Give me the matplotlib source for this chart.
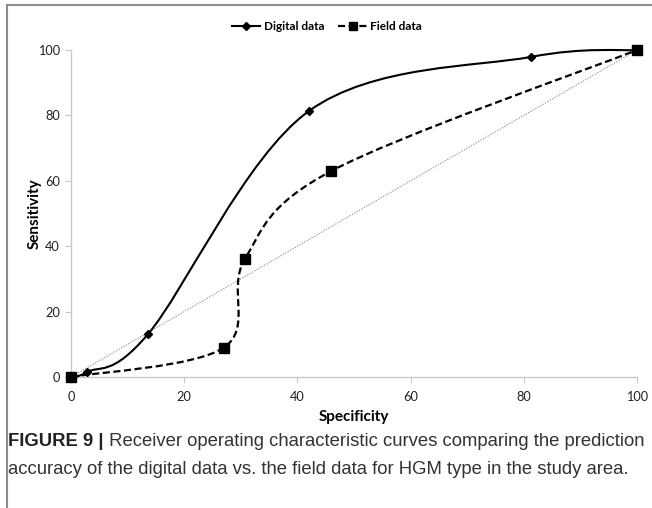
import numpy as np
import matplotlib
matplotlib.use("Agg")
import matplotlib.pyplot as plt
from matplotlib.path import Path
from matplotlib.patches import PathPatch
from matplotlib.lines import Line2D

# ROC points (specificity, sensitivity) in percent
digital_spec = [0, 2.8, 13.6, 42.0, 81.3, 100]
digital_sens = [0, 1.5, 13.1, 81.3, 97.9, 100]
field_spec = [0, 27.0, 30.7, 46.0, 100]
field_sens = [0, 9.0, 36.0, 63.0, 100]
ref_line = [0, 100]

x_ticks = [0, 20, 40, 60, 80, 100]
y_ticks = [0, 20, 40, 60, 80, 100]

series_names = ["Digital data", "Field data"]
x_label = "Specificity"
y_label = "Sensitivity"
caption_bold = "FIGURE 9 |"
caption_line1 = " Receiver operating characteristic curves comparing the prediction"
caption_line2 = "accuracy of the digital data vs. the field data for HGM type in the study area."


def smooth_path(xs, ys):
    """Catmull-Rom style smoothed line expressed as cubic Bezier segments."""
    pts = np.column_stack([xs, ys]).astype(float)
    n = len(pts)
    verts = [pts[0]]
    codes = [Path.MOVETO]
    for i in range(n - 1):
        p_prev = pts[i - 1] if i > 0 else pts[i]
        p0 = pts[i]
        p1 = pts[i + 1]
        p_next = pts[i + 2] if i + 2 < n else pts[i + 1]
        c1 = p0 + (p1 - p_prev) / 6.0
        c2 = p1 - (p_next - p0) / 6.0
        verts += [c1, c2, p1]
        codes += [Path.CURVE4] * 3
    return Path(verts, codes)


W, H = 652, 508
fig = plt.figure(figsize=(W / 100, H / 100), dpi=100)
fig.patch.set_facecolor("white")

# axes box in pixel coordinates
x0_px, x1_px = 71, 637
y0_px, y1_px = 377, 50
ax_w = x1_px - x0_px
ax = fig.add_axes([x0_px / W, 1 - y0_px / H, ax_w / W, (y0_px - y1_px) / H])
ax.set_xlim(0, 100)
ax.set_ylim(0, 100)
for s in ["top", "right"]:
    ax.spines[s].set_visible(False)
for s in ["left", "bottom"]:
    ax.spines[s].set_color("#c8c8c8")
    ax.spines[s].set_linewidth(1.0)

tick_font = "Lato"
ax.set_xticks(x_ticks)
ax.set_yticks(y_ticks)
ax.tick_params(axis="both", direction="out", length=4, width=0.8, color="#c8c8c8",
               labelsize=9.2, labelcolor="#222222")
ax.tick_params(axis="x", pad=6)
ax.tick_params(axis="y", pad=4)
for lab in ax.get_xticklabels() + ax.get_yticklabels():
    lab.set_fontfamily(tick_font)

ax.set_xlabel(x_label, fontsize=11, fontweight="bold", fontfamily=tick_font, labelpad=5)
ax.set_ylabel(y_label, fontsize=11, fontweight="bold", fontfamily=tick_font)
ax.yaxis.set_label_coords((42 - x0_px) / ax_w, 0.5)

# chance diagonal
ax.plot(ref_line, ref_line, linestyle=(0, (1, 1.2)), color="#999999", linewidth=0.9, zorder=1)

# smoothed curves
ax.add_patch(PathPatch(smooth_path(digital_spec, digital_sens), fill=False,
                       edgecolor="black", linewidth=1.5, zorder=3, clip_on=False))
ax.add_patch(PathPatch(smooth_path(field_spec, field_sens), fill=False,
                       edgecolor="black", linewidth=1.6, linestyle=(0, (3.2, 1.6)),
                       zorder=3, clip_on=False))

# markers
ax.plot(digital_spec, digital_sens, linestyle="none", marker="D", markersize=4,
        color="black", zorder=4, clip_on=False)
ax.plot(field_spec, field_sens, linestyle="none", marker="s", markersize=6.5,
        color="black", zorder=5, clip_on=False)

handles = [
    Line2D([], [], color="black", linewidth=1.5, marker="D", markersize=4),
    Line2D([], [], color="black", linewidth=1.6, linestyle=(0, (3.2, 1.6)), marker="s",
           markersize=5.5),
]
leg = fig.legend(handles, series_names, loc="center", bbox_to_anchor=(327 / W, 1 - 27 / H),
                 ncol=2, frameon=False, handlelength=2.4, handletextpad=0.3,
                 columnspacing=1.2, prop={"family": tick_font, "weight": "bold", "size": 8.5})

# caption below the chart
cap_font = "Liberation Sans"
cap_size = 13.3
y1 = 1 - 446 / H
y2 = 1 - 474 / H
t_bold = fig.text(8 / W, y1, caption_bold, fontsize=cap_size, fontweight="bold",
                  fontfamily=cap_font, color="#222222", va="baseline", ha="left")
fig.canvas.draw()
bb = t_bold.get_window_extent()
fig.text(bb.x1 / W, y1, caption_line1, fontsize=cap_size, fontfamily=cap_font,
         color="#333333", va="baseline", ha="left")
fig.text(8 / W, y2, caption_line2, fontsize=cap_size, fontfamily=cap_font,
         color="#333333", va="baseline", ha="left")

# partial frame along the left and top edges
fig.add_artist(Line2D([7 / W, 7 / W], [0, 1 - 5 / H], color="#8c8c8c", linewidth=1.5))
fig.add_artist(Line2D([7 / W, 1], [1 - 5 / H, 1 - 5 / H], color="#8c8c8c", linewidth=1.5))

fig.savefig("out.png", dpi=100, facecolor="white")
